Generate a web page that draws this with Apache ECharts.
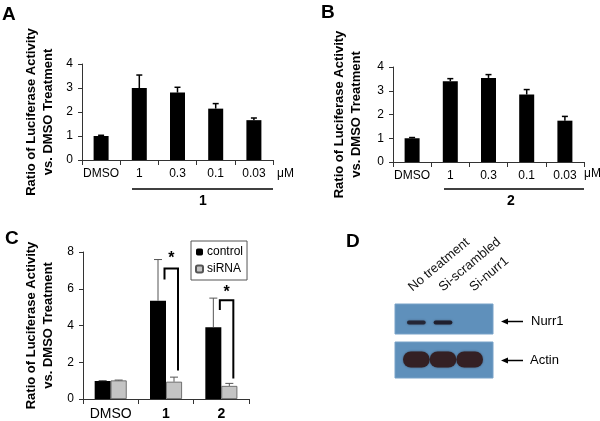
<!DOCTYPE html>
<html>
<head>
<meta charset="utf-8">
<script src="https://cdn.jsdelivr.net/npm/echarts@6/dist/echarts.min.js"></script>
<style>html,body{margin:0;padding:0;background:#fff;}#c{width:600px;height:421px;}</style>
</head>
<body>
<div id="c"></div>
<script>
// ---- data ----
const catsAB = ['DMSO', '1', '0.3', '0.1', '0.03'];
const valsA = [1.0, 3.0, 2.81, 2.14, 1.66];
const errTopA = [1.03, 3.54, 3.03, 2.35, 1.75];
const valsB = [1.0, 3.4, 3.54, 2.84, 1.74];
const errTopB = [1.03, 3.51, 3.68, 3.05, 1.92];
const catsC = ['DMSO', '1', '2'];
const seriesNamesC = ['control', 'siRNA'];
const controlC = [0.98, 5.35, 3.91];
const controlErrTopC = [1.0, 7.59, 5.49];
const siRNAC = [1.01, 0.94, 0.71];
const siRNAErrTopC = [1.03, 1.19, 0.85];
const bracketCats = [1, 2];
const bracketTop = [7.1, 5.37];
const bracketLeftEnd = [6.5, 4.84];
const bracketRightEnd = [1.55, 1.12];
const starLevel = [7.65, 5.81];
const yTicksAB = [0, 1, 2, 3, 4];
const yTicksC = [0, 2, 4, 6, 8];
const lanes = ['No treatment', 'Si-scrambled', 'Si-nurr1'];
const blotRows = ['Actin', 'Nurr1'];
const nurr1Band = [0.85, 0.95, 0];
const actinBand = [1, 1, 1];

const FONT = 'Liberation Sans, Arial, sans-serif';
const AXC = '#333';
const chart = echarts.init(document.getElementById('c'), null, {renderer: 'canvas'});

function yAxisCfg(gi, ticks, gap) {
  return {
    type: 'value', gridIndex: gi, min: ticks[0], max: ticks[ticks.length - 1],
    interval: ticks[1] - ticks[0],
    name: 'Ratio of Luciferase Activity\nvs. DMSO Treatment',
    nameLocation: 'middle', nameRotate: 90, nameGap: gap,
    nameTextStyle: {fontFamily: FONT, fontWeight: 'bold', fontSize: 13, color: '#000', lineHeight: 17},
    axisLine: {show: true, lineStyle: {color: AXC, width: 1}},
    axisTick: {show: true, length: 4, lineStyle: {color: AXC}},
    splitLine: {show: false},
    axisLabel: {fontFamily: FONT, fontSize: 12, color: '#000', margin: 9}
  };
}
function xAxisCfg(gi, cats, bold) {
  return {
    type: 'category', gridIndex: gi, data: cats,
    axisLine: {show: true, lineStyle: {color: AXC, width: 1}},
    axisTick: {show: true, length: 5, lineStyle: {color: AXC}},
    axisLabel: {interval: 0, fontFamily: FONT, fontSize: bold ? 14 : 12, color: '#000', margin: 8,
      formatter: function (v) { return v === 'DMSO' || !bold ? v : '{b|' + v + '}'; },
      rich: {b: {fontFamily: FONT, fontSize: 14, fontWeight: 'bold', color: '#000'}}}
  };
}

function errRender(offset, color, lw, cap) {
  return function (params, api) {
    const i = api.value(0);
    const top = api.coord([i, api.value(1)]);
    const base = api.coord([i, api.value(2)]);
    const x = top[0] + offset;
    return {
      type: 'group',
      children: [
        {type: 'line', shape: {x1: x, y1: base[1], x2: x, y2: top[1]}, style: {stroke: color, lineWidth: lw}},
        {type: 'line', shape: {x1: x - cap, y1: top[1], x2: x + cap, y2: top[1]}, style: {stroke: color, lineWidth: lw}}
      ]
    };
  };
}

const errDataA = catsAB.map((c, i) => [i, errTopA[i], valsA[i]]);
const errDataB = catsAB.map((c, i) => [i, errTopB[i], valsB[i]]);
const errCtrlC = catsC.map((c, i) => [i, controlErrTopC[i], controlC[i]]);
const errSiC = catsC.map((c, i) => [i, siRNAErrTopC[i], siRNAC[i]]);
const bracketData = bracketCats.map((c, k) => [c, bracketTop[k], bracketLeftEnd[k], bracketRightEnd[k], starLevel[k]]);

const laneData = [];
lanes.forEach((l, i) => {
  laneData.push([i, 1, nurr1Band[i], 4]);
  laneData.push([i, 0, actinBand[i], 16]);
});
const laneLabelData = lanes.map((l, i) => [i, 1]);

const option = {
  backgroundColor: '#fff',
  animation: false,
  textStyle: {fontFamily: FONT},
  grid: [
    {left: 82, top: 64, width: 191, height: 96},
    {left: 393, top: 67, width: 191, height: 95},
    {left: 83, top: 252, width: 166, height: 150},
    {left: 403, top: 304, width: 80, height: 74}
  ],
  xAxis: [
    xAxisCfg(0, catsAB, false),
    xAxisCfg(1, catsAB, false),
    xAxisCfg(2, catsC, true),
    {type: 'category', gridIndex: 3, data: lanes, show: false}
  ],
  yAxis: [
    yAxisCfg(0, yTicksAB, 25),
    yAxisCfg(1, yTicksAB, 28),
    yAxisCfg(2, yTicksC, 26),
    {type: 'category', gridIndex: 3, data: blotRows, show: false}
  ],
  legend: {
    data: seriesNamesC, orient: 'vertical', left: 191, top: 241,
    selectedMode: false, borderColor: '#555', borderWidth: 1, padding: [5, 4, 5, 4],
    itemWidth: 7, itemHeight: 7, itemGap: 5,
    textStyle: {fontFamily: FONT, fontSize: 12, color: '#000', padding: [0, 0, 0, -1]}
  },
  series: [
    {type: 'bar', xAxisIndex: 0, yAxisIndex: 0, data: valsA, barWidth: 15, itemStyle: {color: '#000'}},
    {type: 'custom', xAxisIndex: 0, yAxisIndex: 0, data: errDataA, renderItem: errRender(0, '#000', 1.5, 3), z: 3},
    {type: 'bar', xAxisIndex: 1, yAxisIndex: 1, data: valsB, barWidth: 15, itemStyle: {color: '#000'}},
    {type: 'custom', xAxisIndex: 1, yAxisIndex: 1, data: errDataB, renderItem: errRender(0, '#000', 1.5, 3), z: 3},
    {name: 'control', type: 'bar', xAxisIndex: 2, yAxisIndex: 2, data: controlC, barWidth: 16, barGap: '0%', itemStyle: {color: '#000'}},
    {name: 'siRNA', type: 'bar', xAxisIndex: 2, yAxisIndex: 2, data: siRNAC, barWidth: 16, barGap: '0%', itemStyle: {color: '#c4c4c4', borderColor: '#555', borderWidth: 0.8}},
    {type: 'custom', xAxisIndex: 2, yAxisIndex: 2, data: errCtrlC, renderItem: errRender(-8, '#555', 1, 4), z: 3},
    {type: 'custom', xAxisIndex: 2, yAxisIndex: 2, data: errSiC, renderItem: errRender(8, '#555', 1, 4), z: 3},
    {type: 'custom', xAxisIndex: 2, yAxisIndex: 2, data: bracketData, z: 4,
      renderItem: function (params, api) {
        const i = api.value(0);
        const t = api.coord([i, api.value(1)]);
        const l = api.coord([i, api.value(2)]);
        const r = api.coord([i, api.value(3)]);
        const s = api.coord([i, api.value(4)]);
        const xl = t[0] - 1.5, xr = t[0] + 12;
        return {type: 'group', children: [
          {type: 'polyline', shape: {points: [[xl, l[1]], [xl, t[1]], [xr, t[1]], [xr, r[1]]]},
            style: {stroke: '#000', lineWidth: 2, fill: null}},
          {type: 'text', style: {text: '*', x: (xl + xr) / 2, y: s[1], align: 'center', verticalAlign: 'middle',
            font: 'bold 16px ' + FONT, fill: '#000'}}
        ]};
      }},
    {type: 'custom', xAxisIndex: 3, yAxisIndex: 3, data: laneData, z: 3,
      renderItem: function (params, api) {
        const c = api.coord([api.value(0), api.value(1)]);
        const inten = api.value(2);
        if (!inten) return null;
        const h = api.value(3);
        const w = api.size([1, 0])[0] * (h > 8 ? 1.0 : 0.7);
        const col = h > 8 ? 'rgba(52,32,36,' + inten + ')' : 'rgba(30,28,42,' + inten + ')';
        return {type: 'rect', shape: {x: c[0] - w / 2, y: c[1] - h / 2, width: w, height: h, r: h / 2},
          style: {fill: col, shadowBlur: 2, shadowColor: 'rgba(40,35,45,0.6)'}};
      }},
    {type: 'custom', xAxisIndex: 3, yAxisIndex: 3, data: laneLabelData, z: 3,
      renderItem: function (params, api) {
        const i = api.value(0);
        const c = api.coord([i, api.value(1)]);
        return {type: 'text', x: c[0] - 2 + i * 4, y: 294, rotation: 40 * Math.PI / 180,
          style: {text: lanes[i], align: 'left', verticalAlign: 'bottom', font: '13px ' + FONT, fill: '#111'}};
      }}
  ],
  graphic: [
    {type: 'text', left: 2, top: 5, style: {text: 'A', font: 'bold 19px ' + FONT, fill: '#000'}},
    {type: 'text', left: 321, top: 3, style: {text: 'B', font: 'bold 19px ' + FONT, fill: '#000'}},
    {type: 'text', left: 5, top: 229, style: {text: 'C', font: 'bold 19px ' + FONT, fill: '#000'}},
    {type: 'text', left: 346, top: 232, style: {text: 'D', font: 'bold 19px ' + FONT, fill: '#000'}},
    {type: 'text', left: 277, top: 168, style: {text: 'μM', font: '12px ' + FONT, fill: '#000'}},
    {type: 'text', left: 584, top: 168, style: {text: 'μM', font: '12px ' + FONT, fill: '#000'}},
    {type: 'line', shape: {x1: 132, y1: 189, x2: 273, y2: 189}, style: {stroke: '#000', lineWidth: 1.5}},
    {type: 'line', shape: {x1: 444, y1: 189, x2: 584, y2: 189}, style: {stroke: '#000', lineWidth: 1.5}},
    {type: 'text', x: 203, y: 201, style: {text: '1', font: 'bold 14px ' + FONT, fill: '#000', align: 'center', verticalAlign: 'middle'}},
    {type: 'text', x: 511, y: 201, style: {text: '2', font: 'bold 14px ' + FONT, fill: '#000', align: 'center', verticalAlign: 'middle'}},
    {type: 'rect', shape: {x: 395, y: 304, width: 98, height: 30}, style: {fill: '#5f90bb', stroke: '#78a2c8', lineWidth: 1}},
    {type: 'rect', shape: {x: 395, y: 342, width: 98, height: 36}, style: {fill: '#5f90bb', stroke: '#78a2c8', lineWidth: 1}},
    {type: 'line', shape: {x1: 506, y1: 321.5, x2: 523, y2: 321.5}, style: {stroke: '#000', lineWidth: 1.5}},
    {type: 'polygon', shape: {points: [[501, 321.5], [508, 318.5], [508, 324.5]]}, style: {fill: '#000'}},
    {type: 'line', shape: {x1: 506, y1: 360.5, x2: 523, y2: 360.5}, style: {stroke: '#000', lineWidth: 1.5}},
    {type: 'polygon', shape: {points: [[501, 360.5], [508, 357.5], [508, 363.5]]}, style: {fill: '#000'}},
    {type: 'text', x: 531, y: 321.5, style: {text: 'Nurr1', font: '13px ' + FONT, fill: '#000', verticalAlign: 'middle'}},
    {type: 'text', x: 530, y: 360.5, style: {text: 'Actin', font: '13px ' + FONT, fill: '#000', verticalAlign: 'middle'}}
  ]
};
chart.setOption(option);
</script>
</body>
</html>
